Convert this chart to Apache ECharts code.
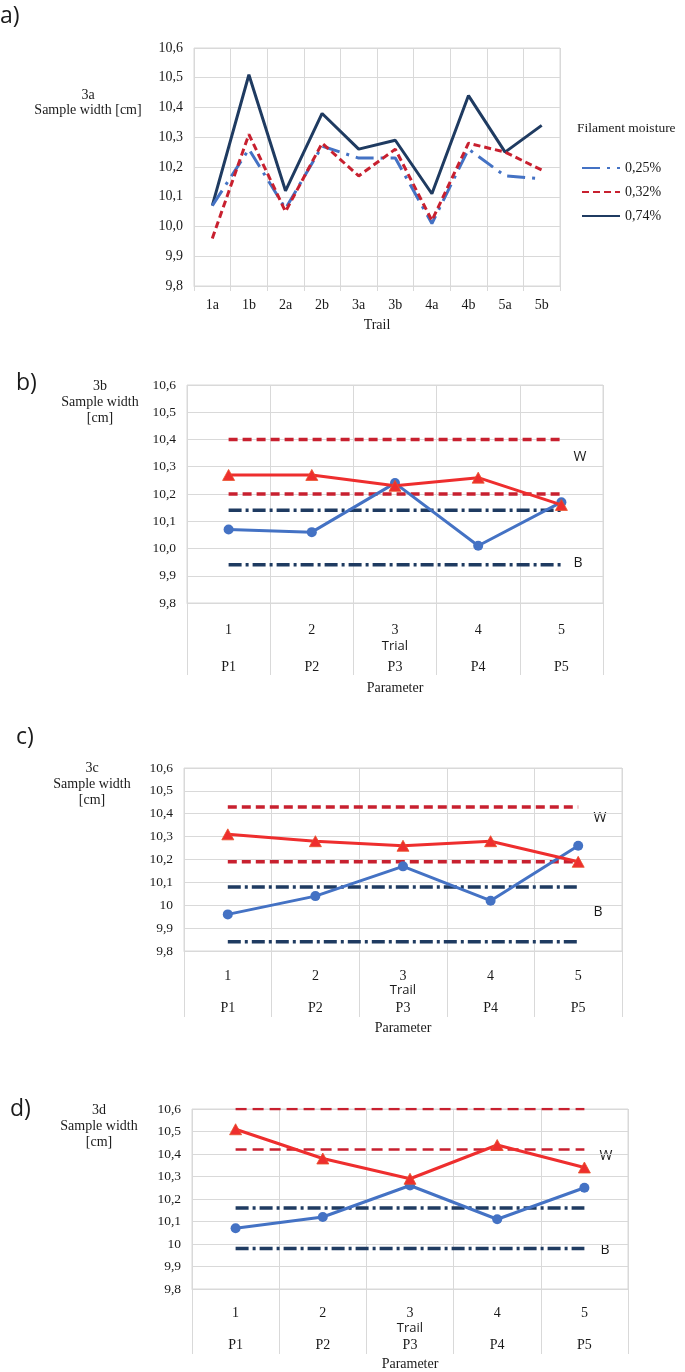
<!DOCTYPE html>
<html><head><meta charset="utf-8">
<script src="https://cdn.jsdelivr.net/npm/echarts@6/dist/echarts.min.js"></script>
<style>html,body{margin:0;padding:0;background:#fff}#c{width:685px;height:1372px}</style>
</head><body><div id="c"></div><script>
// ---------- data ----------
const trailCats = ['1a','1b','2a','2b','3a','3b','4a','4b','5a','5b'];
const moistureNames = ['0,25%','0,32%','0,74%'];
const m025 = [10.07,10.26,10.06,10.27,10.23,10.23,10.01,10.26,10.17,10.16];
const m032 = [9.96,10.31,10.05,10.28,10.17,10.26,10.02,10.28,10.25,10.19];
const m074 = [10.07,10.51,10.12,10.38,10.26,10.29,10.11,10.44,10.25,10.34];

const trialCats = ['1','2','3','4','5'];
const paramCats = ['P1','P2','P3','P4','P5'];

const bRed  = [10.27,10.27,10.23,10.26,10.16];
const bBlue = [10.07,10.06,10.24,10.01,10.17];
const bWLim = [10.40,10.20];
const bBLim = [10.14,9.94];

const cRed  = [10.31,10.28,10.26,10.28,10.19];
const cBlue = [9.96,10.04,10.17,10.02,10.26];
const cWLim = [10.43,10.19];
const cBLim = [10.08,9.84];

const dRed  = [10.51,10.38,10.29,10.44,10.34];
const dBlue = [10.07,10.12,10.26,10.11,10.25];
const dWLim = [10.60,10.42];
const dBLim = [10.16,9.98];

const yTicksComma = ['9,8','9,9','10,0','10,1','10,2','10,3','10,4','10,5','10,6'];
const yTicksPlain = ['9,8','9,9','10','10,1','10,2','10,3','10,4','10,5','10,6'];

// ---------- styles ----------
const SERIF = '"Liberation Serif", "DejaVu Serif", serif';
const SANS = '"Open Sans", "Liberation Sans", sans-serif';
const GRID_C = '#d9d9d9';
const NAVY = '#1f3b61';
const DRED = '#c8202f';
const BLUE = '#4472c4';
const RED = '#ee2e2e';
const TXT = '#1a1a1a';

const grids = [
  {left:194, top:48,  width:366, height:238},
  {left:187, top:385, width:416, height:218},
  {left:184, top:768, width:438, height:183},
  {left:192, top:1109,width:436, height:183}
];
// offsets below axis: [label margin, name gap (trial), P label margin, Parameter gap, tick length]
const lowOff = [null, [20,37,57,78,72], [18,33,50,70,66], [17,33,49,68,65]];
const trialNames = [null,'Trial','Trail','Trail'];

function yAxis(gi, labels){
  return {type:'value', gridIndex:gi, min:9.8, max:10.6, interval:0.1,
    axisLine:{show:false}, axisTick:{show:false},
    splitLine:{show:true, lineStyle:{color:GRID_C, width:1}},
    axisLabel:{margin:11, fontFamily:SERIF, fontSize:gi===0?14:13.5, color:TXT,
      formatter:v=>labels[Math.round((v-9.8)*10)]}};
}

const xAxes = [{
  type:'category', gridIndex:0, data:trailCats, boundaryGap:true,
  axisLine:{show:true, lineStyle:{color:GRID_C}},
  axisTick:{show:true, length:5, interval:0, lineStyle:{color:GRID_C}},
  splitLine:{show:true, interval:0, lineStyle:{color:GRID_C}},
  axisLabel:{margin:12, interval:0, fontFamily:SERIF, fontSize:14, color:TXT},
  name:'Trail', nameLocation:'middle', nameGap:32,
  nameTextStyle:{fontFamily:SERIF, fontSize:14, color:TXT}
}];
const yAxes = [yAxis(0, yTicksComma)];
for (let gi=1; gi<=3; gi++){
  const o = lowOff[gi];
  xAxes.push({
    type:'category', gridIndex:gi, data:trialCats, boundaryGap:true,
    axisLine:{show:true, lineStyle:{color:GRID_C}},
    axisTick:{show:true, length:o[4], interval:0, lineStyle:{color:GRID_C}},
    splitLine:{show:true, interval:0, lineStyle:{color:GRID_C}},
    axisLabel:{margin:o[0], interval:0, fontFamily:SERIF, fontSize:14, color:TXT},
    name:trialNames[gi], nameLocation:'middle', nameGap:o[1],
    nameTextStyle:{fontFamily:SANS, fontSize:13, color:TXT}
  });
  xAxes.push({
    type:'category', gridIndex:gi, data:paramCats, boundaryGap:true, position:'bottom',
    axisLine:{show:false}, axisTick:{show:false}, splitLine:{show:false},
    axisLabel:{margin:o[2], interval:0, fontFamily:SERIF, fontSize:14, color:TXT},
    name:'Parameter', nameLocation:'middle', nameGap:o[3],
    nameTextStyle:{fontFamily:SERIF, fontSize:14, color:TXT}
  });
  yAxes.push(yAxis(gi, gi===1?yTicksComma:yTicksPlain));
}

const series = [
  {name:moistureNames[0], type:'line', xAxisIndex:0, yAxisIndex:0, data:m025, symbol:'none',
   lineStyle:{color:BLUE, width:3, type:[18,7,3,7]}, itemStyle:{color:BLUE}, z:3},
  {name:moistureNames[1], type:'line', xAxisIndex:0, yAxisIndex:0, data:m032, symbol:'none',
   lineStyle:{color:DRED, width:3, type:[7,4]}, itemStyle:{color:DRED}, z:4},
  {name:moistureNames[2], type:'line', xAxisIndex:0, yAxisIndex:0, data:m074, symbol:'none',
   lineStyle:{color:NAVY, width:3}, itemStyle:{color:NAVY}, z:2}
];

const panels = [
  {gi:1, xi:1, red:bRed, blue:bBlue, w:bWLim, b:bBLim, redDash:[9,5], redW:3.5},
  {gi:2, xi:3, red:cRed, blue:cBlue, w:cWLim, b:cBLim, redDash:[9,5], redW:3.5},
  {gi:3, xi:5, red:dRed, blue:dBlue, w:dWLim, b:dBLim, redDash:[11,6], redW:2.5}
];
panels.forEach(p=>{
  p.w.forEach(v=>series.push({type:'line', xAxisIndex:p.xi, yAxisIndex:p.gi,
    data:trialCats.map(()=>v), symbol:'none', silent:true,
    lineStyle:{color:DRED, width:p.redW, type:p.redDash}, z:2}));
  p.b.forEach(v=>series.push({type:'line', xAxisIndex:p.xi, yAxisIndex:p.gi,
    data:trialCats.map(()=>v), symbol:'none', silent:true,
    lineStyle:{color:NAVY, width:3.5, type:[13,4,3,4]}, z:2}));
  series.push({type:'line', xAxisIndex:p.xi, yAxisIndex:p.gi, data:p.blue,
    symbol:'circle', symbolSize:10, lineStyle:{color:BLUE, width:3}, itemStyle:{color:BLUE}, z:3});
  series.push({type:'line', xAxisIndex:p.xi, yAxisIndex:p.gi, data:p.red,
    symbol:'triangle', symbolSize:[12,11], lineStyle:{color:RED, width:3},
    itemStyle:{color:RED, borderColor:'#e8502a', borderWidth:0.8}, z:4});
});

function txt(x,y,t,font,size,align,extra){
  return Object.assign({type:'text', x:x, y:y, silent:true,
    style:{text:t, fontFamily:font, fontSize:size, fill:TXT, align:align||'center', verticalAlign:'middle'}}, extra||{});
}
const graphic = [
  txt(0,16,'a)',SANS,23,'left'),
  txt(88,95,'3a',SERIF,14), txt(88,110,'Sample width [cm]',SERIF,14),
  txt(577,128,'Filament moisture',SERIF,13.5,'left'),
  txt(16,383,'b)',SANS,23,'left'),
  txt(100,386,'3b',SERIF,14), txt(100,402,'Sample width',SERIF,14), txt(100,418,'[cm]',SERIF,14),
  txt(580,457,'W',SANS,14), txt(578,563,'B',SANS,14),
  txt(16,737,'c)',SANS,23,'left'),
  txt(92,768,'3c',SERIF,14), txt(92,784,'Sample width',SERIF,14), txt(92,800,'[cm]',SERIF,14),
  txt(600,818,'W',SANS,14), txt(598,912,'B',SANS,14),
  txt(10,1109,'d)',SANS,23,'left'),
  txt(99,1110,'3d',SERIF,14), txt(99,1126,'Sample width',SERIF,14), txt(99,1142,'[cm]',SERIF,14),
  txt(606,1156,'W',SANS,14), txt(605,1250,'B',SANS,14)
];

const chart = echarts.init(document.getElementById('c'), null, {renderer:'canvas'});
chart.setOption({
  animation:false,
  backgroundColor:'#fff',
  grid: grids.map(g=>Object.assign({show:true, borderColor:GRID_C, borderWidth:1, backgroundColor:'transparent', containLabel:false}, g)),
  xAxis:xAxes, yAxis:yAxes, series:series, graphic:graphic,
  legend:{data:moistureNames, orient:'vertical', left:581, top:161, itemWidth:38, itemHeight:14, itemGap:10,
    padding:0, itemStyle:{opacity:0}, textStyle:{fontFamily:SERIF, fontSize:14, color:TXT}, selectedMode:false}
});
</script></body></html>
